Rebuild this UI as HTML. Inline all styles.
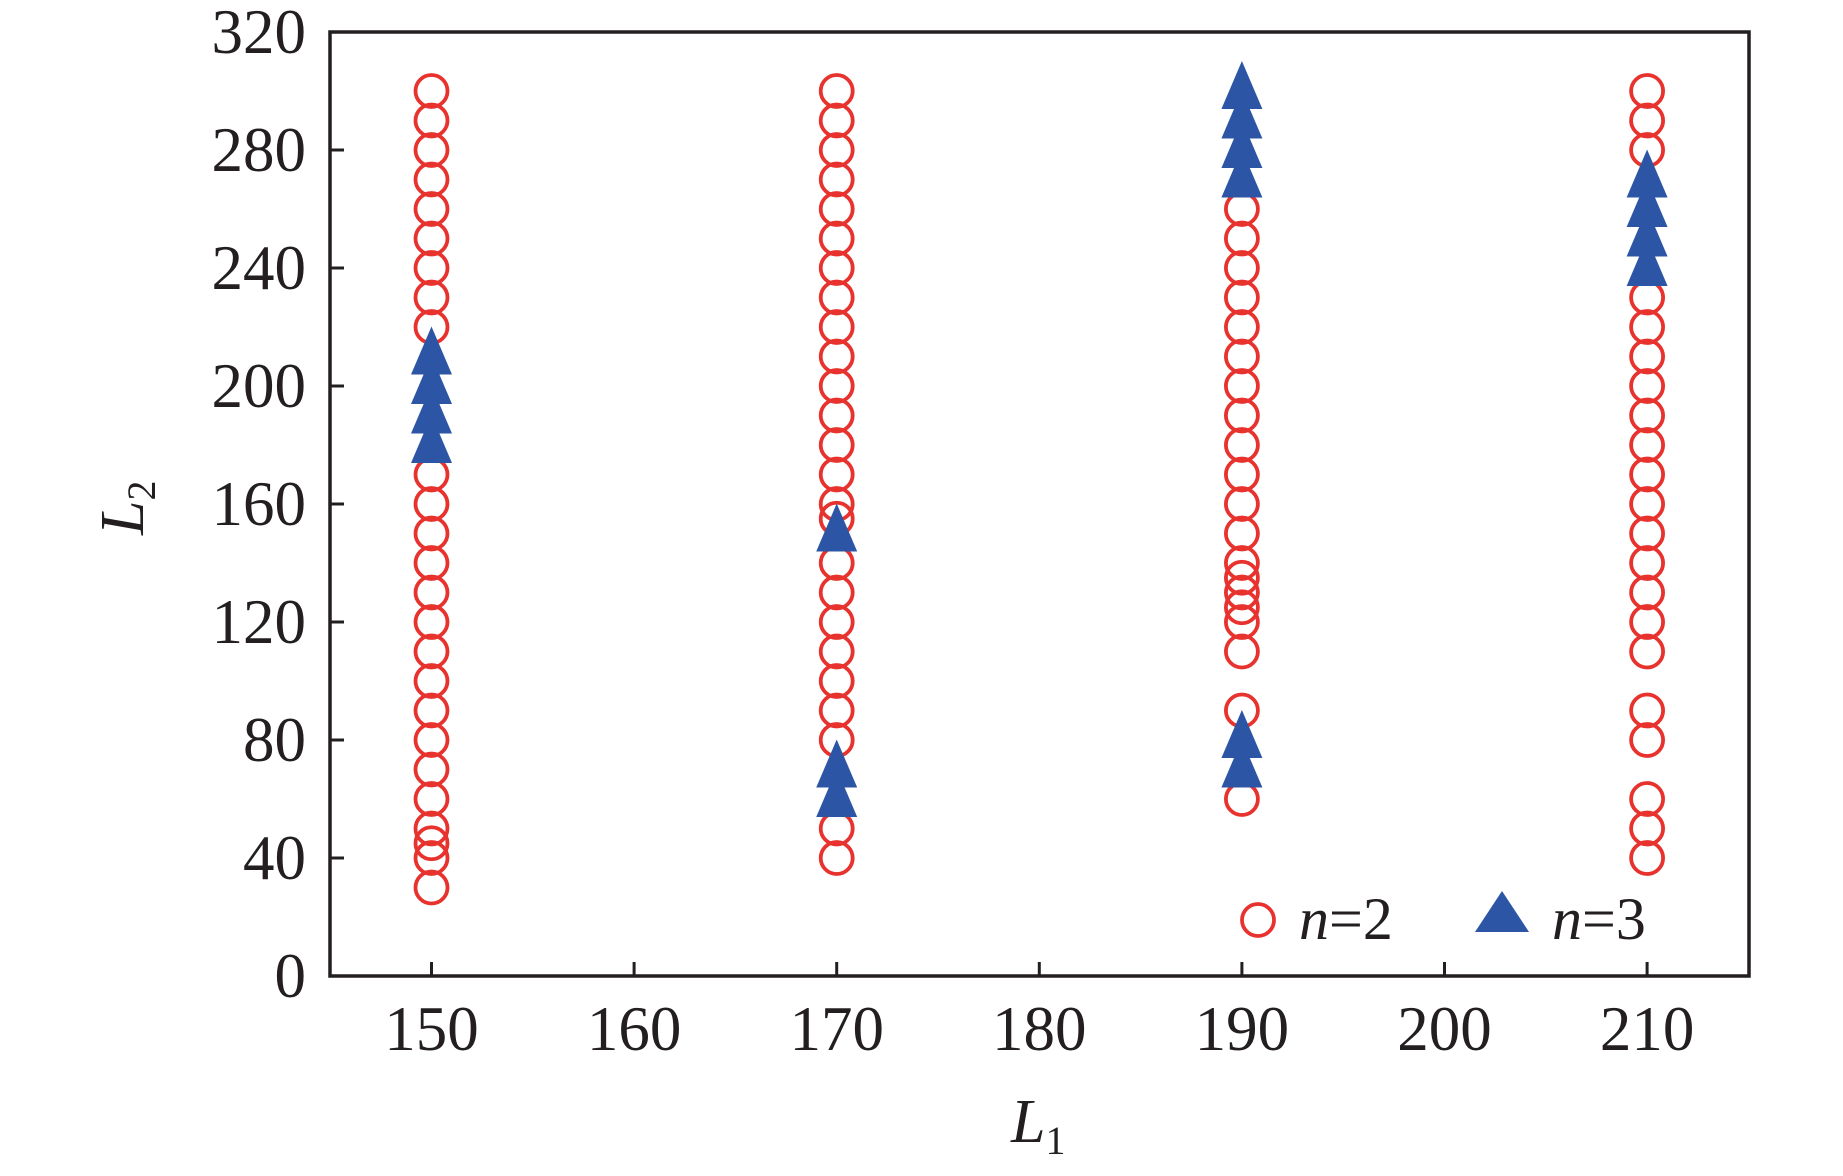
<!DOCTYPE html>
<html><head><meta charset="utf-8"><style>html,body{margin:0;padding:0;background:#fff}svg{display:block}</style></head>
<body>
<svg width="1843" height="1176" viewBox="0 0 1843 1176" xmlns="http://www.w3.org/2000/svg" style="font-family:'Liberation Serif','Times New Roman',serif" fill="#231f20">
<g id="data"></g>
<rect x="330" y="32" width="1419" height="944" fill="none" stroke="#231f20" stroke-width="3.5"/>
<g id="ticks" stroke="#231f20" stroke-width="3"></g>
<g id="labels" font-size="63"></g>
<text x="1011" y="1142" font-size="62" font-style="italic">L<tspan font-size="40" font-style="normal" dy="12">1</tspan></text>
<text transform="translate(143,535) rotate(-90)" font-size="62" font-style="italic">L<tspan font-size="40" font-style="normal" dy="12">2</tspan></text>
<circle cx="1258" cy="920" r="16" fill="none" stroke="#e8322e" stroke-width="3.8"/>
<text x="1299" y="939" font-size="60"><tspan font-style="italic">n</tspan>=2</text>
<polygon points="1502,891 1529,932 1475,932" fill="#2c56a5"/>
<text x="1552" y="939" font-size="60"><tspan font-style="italic">n</tspan>=3</text>
</svg>
<script>
const X=v=>431.5+(v-150)*20.26, Y=v=>976-v*2.95;
const circ={150:[30,40,45,50,60,70,80,90,100,110,120,130,140,150,160,170,220,230,240,250,260,270,280,290,300],
170:[40,50,80,90,100,110,120,130,140,155,160,170,180,190,200,210,220,230,240,250,260,270,280,290,300],
190:[60,90,110,120,125,130,135,140,150,160,170,180,190,200,210,220,230,240,250,260],
210:[40,50,60,80,90,110,120,130,140,150,160,170,180,190,200,210,220,230,280,290,300]};
const tri={150:[180,190,200,210],170:[60,70,150],190:[70,80,270,280,290,300],210:[240,250,260,270]};
let s='';
for(const k in circ)for(const v of circ[k])s+=`<circle cx="${X(+k)}" cy="${Y(v)}" r="16" fill="none" stroke="#e8322e" stroke-width="3.8"/>`;
for(const k in tri)for(const v of tri[k]){const x=X(+k),y=Y(v);s+=`<polygon points="${x},${y-30} ${x+20.5},${y+18} ${x-20.5},${y+18}" fill="#2c56a5"/>`;}
document.getElementById('data').innerHTML=s;
let t='',l='';
for(let v=150;v<=210;v+=10){const x=X(v);t+=`<line x1="${x}" y1="976" x2="${x}" y2="962"/>`;l+=`<text x="${x}" y="1050" text-anchor="middle">${v}</text>`;}
for(let v=0;v<=320;v+=40){const y=Y(v);t+=`<line x1="330" y1="${y}" x2="344" y2="${y}"/>`;l+=`<text x="306" y="${y+21}" text-anchor="end">${v}</text>`;}
document.getElementById('ticks').innerHTML=t;document.getElementById('labels').innerHTML=l;
</script>
</body></html>
